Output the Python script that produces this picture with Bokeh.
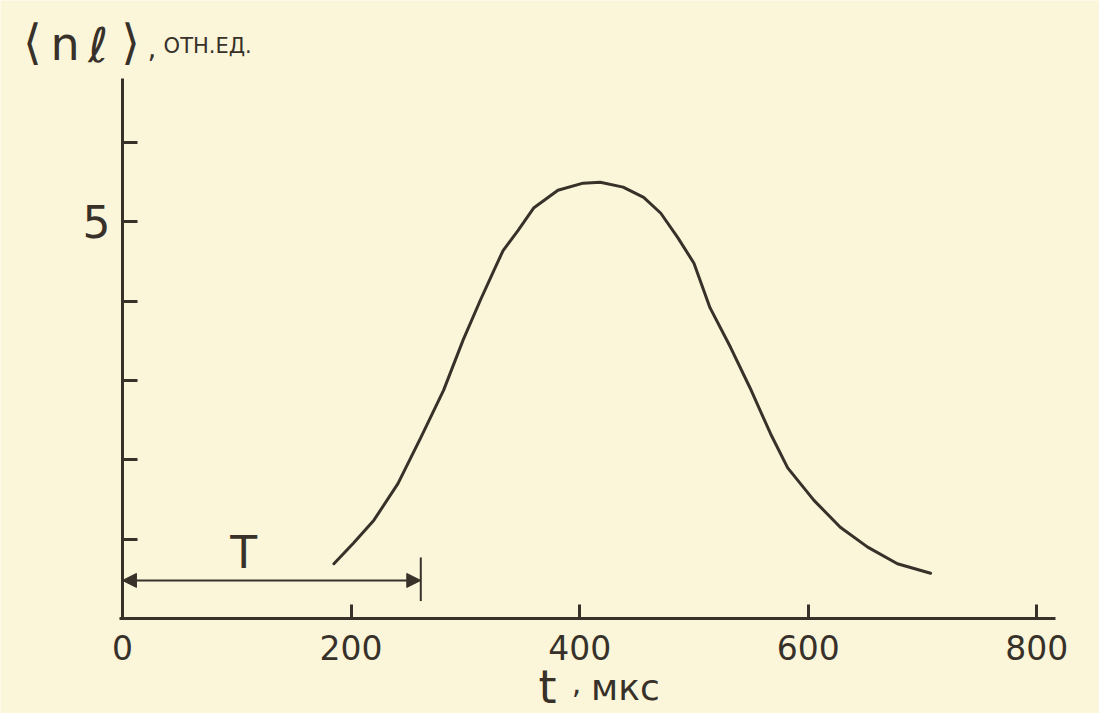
from bokeh.plotting import figure
from bokeh.models import FixedTicker, Label, Arrow, NormalHead, Range1d
from bokeh.embed import file_html
from bokeh.resources import INLINE

# ---- data ----
t_us = [185, 202, 220, 241, 261, 281, 298, 313, 325, 333, 346, 360, 381, 403, 418,
        438, 456, 471, 486, 500, 514, 532, 549, 567, 582, 605, 628, 652, 678, 707]
nl = [0.69, 0.95, 1.24, 1.70, 2.28, 2.88, 3.51, 4.01, 4.39, 4.64, 4.89, 5.18, 5.40, 5.49, 5.50,
      5.44, 5.31, 5.11, 4.80, 4.48, 3.92, 3.42, 2.91, 2.33, 1.90, 1.49, 1.15, 0.90, 0.69, 0.57]
x_ticks = [0, 200, 400, 600, 800]
y_ticks = [1, 2, 3, 4, 5, 6]
y_labels = {1: "", 2: "", 3: "", 4: "", 5: "5", 6: ""}
T_end = 261          # end of interval T, us
T_level = 0.48       # height of the T arrow

INK = "#37312a"
PAPER = "#fbf6d9"
FONT = "DejaVu Sans"

p = figure(width=1099, height=713,
           x_range=Range1d(-106.7, 854.8), y_range=Range1d(-1.198, 7.793),
           output_backend="svg", toolbar_location=None,
           min_border=0, min_border_left=0, min_border_right=0,
           min_border_top=0, min_border_bottom=0)
p.title.visible = False
p.background_fill_color = PAPER
p.border_fill_color = PAPER
p.outline_line_color = None
p.xgrid.visible = False
p.ygrid.visible = False

for ax in (p.xaxis[0], p.yaxis[0]):
    ax.fixed_location = 0
    ax.axis_line_color = INK
    ax.axis_line_width = 3
    ax.major_tick_line_color = INK
    ax.major_tick_line_width = 3
    ax.major_tick_out = 0
    ax.minor_tick_in = 0
    ax.minor_tick_out = 0
    ax.major_label_text_font = FONT
    ax.major_label_text_color = INK

p.xaxis.bounds = (-3, 816)
p.xaxis.ticker = FixedTicker(ticks=x_ticks)
p.xaxis.major_tick_in = 14
p.xaxis.major_label_text_font_size = "33px"
p.xaxis.major_label_standoff = 17

p.yaxis.bounds = (0, 6.81)
p.yaxis.ticker = FixedTicker(ticks=y_ticks)
p.yaxis.major_label_overrides = y_labels
p.yaxis.major_tick_in = 15
p.yaxis.major_label_text_font_size = "44px"
p.yaxis.major_label_standoff = 12

# curve
p.line(t_us, nl, line_color=INK, line_width=3, line_join="round", line_cap="round")

# interval T
head = dict(size=14, fill_color=INK, line_color=INK)
p.add_layout(Arrow(start=NormalHead(**head), end=NormalHead(**head),
                   x_start=0, y_start=T_level, x_end=T_end, y_end=T_level,
                   line_color=INK, line_width=2))
p.segment(x0=[T_end], y0=[T_level - 0.26], x1=[T_end], y1=[T_level + 0.29],
          line_color=INK, line_width=2)

def lab(x, y, s, size, align="left"):
    p.add_layout(Label(x=x, y=y, text=s, text_font=FONT, text_font_size=size,
                       text_color=INK, text_align=align, text_baseline="alphabetic"))

lab(106, 0.83, "T", "44px", "center")

# axis titles (placed as in the original drawing)
lab(-87, 7.27, "⟨", "48px")
lab(-63, 7.25, "n", "46px")
lab(-30, 7.23, "ℓ", "48px")
lab(-1, 7.27, "⟩", "48px")
lab(22, 7.20, ",", "28px")
lab(36, 7.22, "ОТН.ЕД.", "21px")

lab(364, -0.87, "t", "46px")
lab(393, -0.80, ",", "30px")
lab(410, -0.87, "мкс", "36px")

open("out.html", "w").write(file_html(p, INLINE))
